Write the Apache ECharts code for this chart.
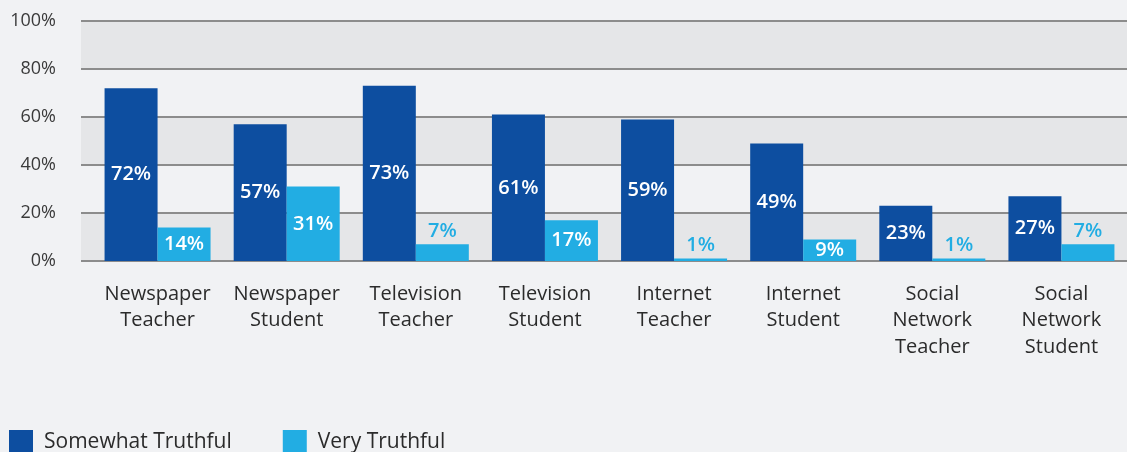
<!DOCTYPE html>
<html>
<head>
<meta charset="utf-8">
<script src="https://cdn.jsdelivr.net/npm/echarts@6/dist/echarts.min.js"></script>
<style>
html,body{margin:0;padding:0;background:#f1f2f4;}
#c{width:1127px;height:452px;}
</style>
</head>
<body>
<div id="c"></div>
<script>
const categories = ["Newspaper\nTeacher","Newspaper\nStudent","Television\nTeacher","Television\nStudent","Internet\nTeacher","Internet\nStudent","Social\nNetwork\nTeacher","Social\nNetwork\nStudent"];
const somewhatTruthful = [72,57,73,61,59,49,23,27];
const veryTruthful = [14,31,7,17,1,9,1,7];
const yTicks = [0,20,40,60,80,100];

const DARK = '#0d4ea0', LIGHT = '#22ade3';
const FONT = '"Open Sans", Lato, sans-serif';

const lightData = veryTruthful.map(v => {
  if (v < 9) {
    return {value: v, label: {position: 'top', color: LIGHT, distance: 3}};
  }
  return v;
});

const chart = echarts.init(document.getElementById('c'));
chart.setOption({
  backgroundColor: '#f1f2f4',
  animation: false,
  grid: [
    {left: 81, right: 0, top: 21, bottom: 191},
    {left: 93, right: 1, top: 21, bottom: 191}
  ],
  xAxis: [
    {gridIndex: 0, type: 'category', data: categories, show: false},
    {gridIndex: 1, type: 'category', data: categories,
     axisLine: {show: false}, axisTick: {show: false},
     axisLabel: {color: '#2b2b2b', fontSize: 20, fontFamily: FONT, lineHeight: 26.5, margin: 20, interval: 0}}
  ],
  yAxis: [
    {gridIndex: 0, type: 'value', min: yTicks[0], max: yTicks[yTicks.length-1], interval: 20,
     axisLine: {show: false}, axisTick: {show: false},
     axisLabel: {formatter: '{value}%', color: '#3a3a3a', fontSize: 18, fontFamily: FONT, margin: 25},
     splitLine: {show: true, lineStyle: {color: '#8c8c8c', width: 2}},
     splitArea: {show: true, areaStyle: {color: ['#e5e6e8', '#f1f2f4']}}},
    {gridIndex: 1, type: 'value', min: 0, max: 100, interval: 20, show: false, splitLine: {show: false}}
  ],
  legend: {
    left: 4, top: 425, itemWidth: 24, itemHeight: 24, itemGap: 51,
    icon: 'rect',
    textStyle: {fontSize: 21, color: '#2b2b2b', fontFamily: FONT, padding: [2,0,0,6]},
    data: ['Somewhat Truthful', 'Very Truthful']
  },
  series: [
    {name: 'Somewhat Truthful', type: 'bar', xAxisIndex: 1, yAxisIndex: 1,
     data: somewhatTruthful, barWidth: 53, barGap: '0%',
     itemStyle: {color: DARK},
     label: {show: true, position: 'inside', formatter: '{c}%', color: '#fff', fontSize: 20, fontWeight: 600, fontFamily: FONT}},
    {name: 'Very Truthful', type: 'bar', xAxisIndex: 1, yAxisIndex: 1,
     data: lightData, barWidth: 53, barGap: '0%',
     itemStyle: {color: LIGHT},
     label: {show: true, position: 'inside', formatter: '{c}%', color: '#fff', fontSize: 20, fontWeight: 600, fontFamily: FONT}}
  ]
});
</script>
</body>
</html>
